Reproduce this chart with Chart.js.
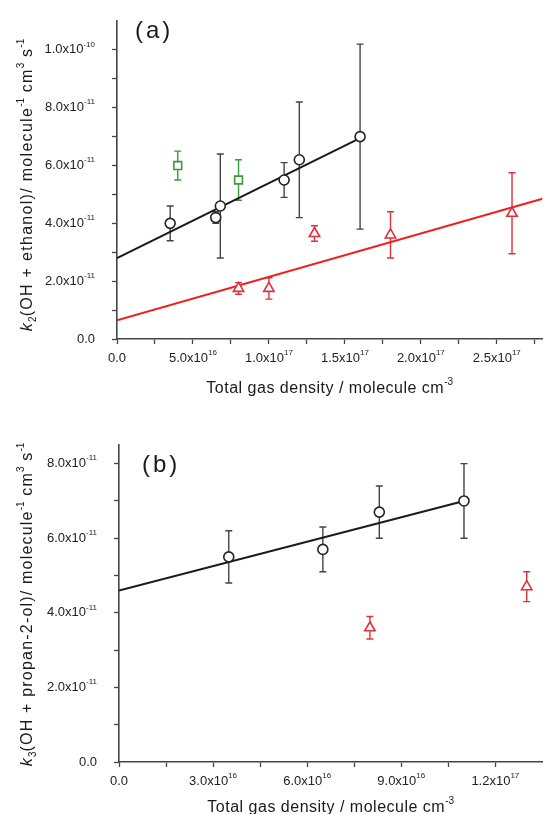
<!DOCTYPE html>
<html>
<head>
<meta charset="utf-8">
<script src="https://cdn.jsdelivr.net/npm/chart.js@4.4.0/dist/chart.umd.min.js"></script>
<style>
  html, body { margin: 0; padding: 0; background: #fff; }
  body { width: 550px; height: 814px; position: relative; overflow: hidden; }
  canvas { position: absolute; left: 0; }
</style>
</head>
<body>
<canvas id="ca" width="550" height="400" style="top:0px"></canvas>
<canvas id="cb" width="550" height="407" style="top:407px"></canvas>
<script>
// ---------------- Panel (a): k2(OH + ethanol) ----------------
const aCircleX   = [3.5e16, 6.5e16, 6.8e16, 1.1e17, 1.2e17, 1.6e17];
const aCircleY   = [4.0e-11, 4.2e-11, 4.6e-11, 5.5e-11, 6.2e-11, 7.0e-11];
const aCircleErr = [0.6e-11, 0.2e-11, 1.8e-11, 0.6e-11, 2.0e-11, 3.2e-11];

const aSquareX   = [4.0e16, 8.0e16];
const aSquareY   = [6.0e-11, 5.5e-11];
const aSquareErr = [0.5e-11, 0.7e-11];

const aTriX   = [8.0e16, 1.0e17, 1.3e17, 1.8e17, 2.6e17];
const aTriY   = [1.75e-11, 1.75e-11, 3.65e-11, 3.6e-11, 4.35e-11];
const aTriErr = [0.2e-11, 0.37e-11, 0.27e-11, 0.8e-11, 1.4e-11];

const aBlackFitX = [0, 1.6e17];
const aBlackFitY = [2.8e-11, 6.95e-11];
const aRedFitX   = [0, 2.8e17];
const aRedFitY   = [0.65e-11, 4.85e-11];

const aXMajor = [0, 5e16, 1e17, 1.5e17, 2e17, 2.5e17];
const aXMinor = [2.5e16, 7.5e16, 1.25e17, 1.75e17, 2.25e17, 2.75e17];
const aYMajor = [0, 2e-11, 4e-11, 6e-11, 8e-11, 1e-10];
const aYMinor = [1e-11, 3e-11, 5e-11, 7e-11, 9e-11];
const aXRange = [0, 2.8e17];
const aYRange = [0, 1.1e-10];

// ---------------- Panel (b): k3(OH + propan-2-ol) ----------------
const bCircleX   = [3.5e16, 6.5e16, 8.3e16, 1.1e17];
const bCircleY   = [5.5e-11, 5.7e-11, 6.7e-11, 7.0e-11];
const bCircleErr = [0.7e-11, 0.6e-11, 0.7e-11, 1.0e-11];

const bTriX   = [8.0e16, 1.3e17];
const bTriY   = [3.6e-11, 4.7e-11];
const bTriErr = [0.3e-11, 0.4e-11];

const bFitX = [0, 1.1e17];
const bFitY = [4.6e-11, 7.0e-11];

const bXMajor = [0, 3e16, 6e16, 9e16, 1.2e17];
const bXMinor = [1.5e16, 4.5e16, 7.5e16, 1.05e17];
const bYMajor = [0, 2e-11, 4e-11, 6e-11, 8e-11];
const bYMinor = [1e-11, 3e-11, 5e-11, 7e-11];
const bXRange = [0, 1.35e17];
const bYRange = [0, 8.5e-11];

// ---------------- text ----------------
const xTitleParts = [{t: 'Total gas density / molecule cm'}, {t: '-3', s: 'sup'}];
const aYTitleParts = [{t: 'k', i: true}, {t: '2', s: 'sub'}, {t: '(OH + ethanol)/ molecule'}, {t: '-1', s: 'sup'},
                      {t: ' cm'}, {t: '3', s: 'sup'}, {t: ' s'}, {t: '-1', s: 'sup'}];
const bYTitleParts = [{t: 'k', i: true}, {t: '3', s: 'sub'}, {t: '(OH + propan-2-ol)/ molecule'}, {t: '-1', s: 'sup'},
                      {t: ' cm'}, {t: '3', s: 'sup'}, {t: ' s'}, {t: '-1', s: 'sup'}];

const FONT = '"Liberation Sans", Arimo, Arial, Helvetica, sans-serif';

function pts(xs, ys) { return xs.map((x, i) => ({x: x, y: ys[i]})); }

function sciLabel(v) {
  if (Math.abs(v) < 1e-40) return [{t: '0.0'}];
  const e = Math.floor(Math.log10(Math.abs(v)) + 1e-9);
  const m = v / Math.pow(10, e);
  return [{t: m.toFixed(1) + 'x10'}, {t: String(e), s: 'sup'}];
}

function fontFor(p, size) {
  const s = p.s ? Math.round(size * 0.6) : size;
  return (p.i ? 'italic ' : '') + s + 'px ' + FONT;
}

function drawRich(ctx, parts, x, y, align, size, color, spacing) {
  ctx.save();
  ctx.textAlign = 'left';
  ctx.textBaseline = 'middle';
  ctx.fillStyle = color;
  const widths = [];
  let total = 0;
  parts.forEach(p => {
    ctx.font = fontFor(p, size);
    ctx.letterSpacing = (p.s ? 0 : spacing) + 'px';
    const w = ctx.measureText(p.t).width;
    widths.push(w);
    total += w;
  });
  let cx = align === 'right' ? x - total : (align === 'center' ? x - total / 2 : x);
  parts.forEach((p, i) => {
    ctx.font = fontFor(p, size);
    ctx.letterSpacing = (p.s ? 0 : spacing) + 'px';
    const dy = p.s === 'sup' ? -size * 0.42 : (p.s === 'sub' ? size * 0.32 : 0);
    ctx.fillText(p.t, cx, y + dy);
    cx += widths[i];
  });
  ctx.restore();
}

// error bars drawn beneath the markers
const errPlugin = {
  id: 'errbars',
  beforeDatasetsDraw(chart) {
    const ctx = chart.ctx, xs = chart.scales.x, ys = chart.scales.y;
    chart.data.datasets.forEach(ds => {
      if (!ds.errors) return;
      ctx.save();
      ctx.strokeStyle = ds.errColor;
      ctx.lineWidth = 1.4;
      ds.data.forEach((p, i) => {
        const e = ds.errors[i];
        const px = xs.getPixelForValue(p.x);
        const y1 = ys.getPixelForValue(p.y - e);
        const y2 = ys.getPixelForValue(p.y + e);
        ctx.beginPath();
        ctx.moveTo(px, y1); ctx.lineTo(px, y2);
        ctx.moveTo(px - 3.5, y1); ctx.lineTo(px + 3.5, y1);
        ctx.moveTo(px - 3.5, y2); ctx.lineTo(px + 3.5, y2);
        ctx.stroke();
      });
      ctx.restore();
    });
  }
};

// axis labels, titles and panel letter
const textPlugin = {
  id: 'richtext',
  afterDraw(chart, args, o) {
    const ctx = chart.ctx, xs = chart.scales.x, ys = chart.scales.y, ca = chart.chartArea;
    o.yMajor.forEach(v => {
      drawRich(ctx, sciLabel(v), ca.left - 22, ys.getPixelForValue(v), 'right', 13, '#222', 0);
    });
    o.xMajor.forEach(v => {
      drawRich(ctx, sciLabel(v), xs.getPixelForValue(v), ca.bottom + 19, 'center', 13, '#222', 0);
    });
    drawRich(ctx, o.xTitle, (ca.left + ca.right) / 2, ca.bottom + o.xTitleOffset, 'center', 16, '#1a1a1a', 0.5);
    ctx.save();
    ctx.translate(o.yTitleX, (ca.top + ca.bottom) / 2 + o.yTitleShift);
    ctx.rotate(-Math.PI / 2);
    drawRich(ctx, o.yTitle, 0, 0, 'center', 16, '#1a1a1a', o.yTitleSpacing);
    ctx.restore();
    drawRich(ctx, [{t: o.panel}], o.panelX, o.panelY, 'left', 24, '#1a1a1a', 3);
  }
};

function axisScale(range, major, minor, sizeProp, size) {
  const ticks = major.concat(minor).sort((a, b) => a - b);
  return {
    type: 'linear',
    min: range[0],
    max: range[1],
    afterBuildTicks(scale) { scale.ticks = ticks.map(v => ({value: v})); },
    afterFit(scale) { scale[sizeProp] = size; },
    ticks: {display: false},
    title: {display: false},
    border: {display: true, color: '#444', width: 1.6},
    grid: {drawOnChartArea: false, drawTicks: true, tickLength: 5, tickColor: '#444', tickWidth: 1.3}
  };
}

function markerSet(xs, ys, errs, style, radius, color, errColor) {
  return {
    type: 'scatter',
    data: pts(xs, ys),
    errors: errs,
    errColor: errColor,
    pointStyle: style,
    pointRadius: radius,
    pointHoverRadius: radius,
    pointBorderWidth: 1.6,
    borderColor: color,
    backgroundColor: '#ffffff',
    showLine: false
  };
}

function fitSet(xs, ys, color) {
  return {
    type: 'line',
    data: pts(xs, ys),
    borderColor: color,
    borderWidth: 2,
    pointRadius: 0,
    fill: false,
    tension: 0
  };
}

new Chart(document.getElementById('ca'), {
  type: 'scatter',
  data: {
    datasets: [
      markerSet(aCircleX, aCircleY, aCircleErr, 'circle', 5, '#222222', '#444444'),
      markerSet(aSquareX, aSquareY, aSquareErr, 'rect', 5.5, '#3a9a3a', '#3a9a3a'),
      markerSet(aTriX, aTriY, aTriErr, 'triangle', 6, '#e0303a', '#e0303a'),
      fitSet(aBlackFitX, aBlackFitY, '#1a1a1a'),
      fitSet(aRedFitX, aRedFitY, '#f02020')
    ]
  },
  options: {
    responsive: false,
    devicePixelRatio: 1,
    animation: false,
    layout: {padding: {left: 0, right: 2, top: 21, bottom: 0}},
    scales: {
      x: axisScale(aXRange, aXMajor, aXMinor, 'height', 61),
      y: axisScale(aYRange, aYMajor, aYMinor, 'width', 117)
    },
    plugins: {
      legend: {display: false},
      tooltip: {enabled: false},
      richtext: {
        xMajor: aXMajor, yMajor: aYMajor,
        xTitle: xTitleParts, xTitleOffset: 50,
        yTitle: aYTitleParts, yTitleX: 28, yTitleShift: 5, yTitleSpacing: 1.3,
        panel: '(a)', panelX: 135, panelY: 31
      }
    }
  },
  plugins: [errPlugin, textPlugin]
});

new Chart(document.getElementById('cb'), {
  type: 'scatter',
  data: {
    datasets: [
      markerSet(bCircleX, bCircleY, bCircleErr, 'circle', 5, '#222222', '#444444'),
      markerSet(bTriX, bTriY, bTriErr, 'triangle', 6, '#e0303a', '#e0303a'),
      fitSet(bFitX, bFitY, '#1a1a1a')
    ]
  },
  options: {
    responsive: false,
    devicePixelRatio: 1,
    animation: false,
    layout: {padding: {left: 0, right: 2, top: 38, bottom: 0}},
    scales: {
      x: axisScale(bXRange, bXMajor, bXMinor, 'height', 52),
      y: axisScale(bYRange, bYMajor, bYMinor, 'width', 119)
    },
    plugins: {
      legend: {display: false},
      tooltip: {enabled: false},
      richtext: {
        xMajor: bXMajor, yMajor: bYMajor,
        xTitle: xTitleParts, xTitleOffset: 46,
        yTitle: bYTitleParts, yTitleX: 28, yTitleShift: 1, yTitleSpacing: 1.2,
        panel: '(b)', panelX: 142, panelY: 58
      }
    }
  },
  plugins: [errPlugin, textPlugin]
});
</script>
</body>
</html>
